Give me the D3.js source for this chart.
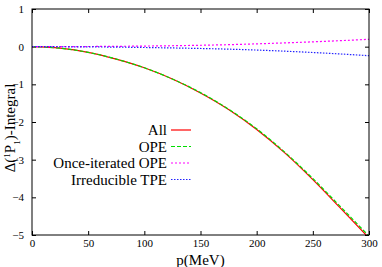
<!DOCTYPE html>
<html>
<head>
<meta charset="utf-8">
<script src="https://cdn.jsdelivr.net/npm/d3@7"></script>
<style>
body { margin: 0; background: #fff; }
svg text { font-family: "Liberation Serif", "DejaVu Serif", serif; }
</style>
</head>
<body>
<script>
const width = 382, height = 267;
const margin = {left: 32, right: 13, top: 9, bottom: 32};

// momentum values (MeV)
const pValues = [0, 25, 50, 75, 100, 125, 150, 175, 200, 225, 250, 275, 300];
// series
const allValues = [0, -0.04, -0.15, -0.33, -0.56, -0.86, -1.23, -1.67, -2.2, -2.82, -3.53, -4.3, -5.08];
const opeValues = [0, -0.04, -0.15, -0.33, -0.56, -0.86, -1.22, -1.66, -2.18, -2.8, -3.5, -4.26, -5.03];
const onceValues = [0, 0.001, 0.004, 0.009, 0.016, 0.025, 0.037, 0.053, 0.075, 0.1, 0.128, 0.16, 0.195];
const tpeValues = [0, -0.002, -0.006, -0.012, -0.022, -0.034, -0.048, -0.066, -0.09, -0.12, -0.155, -0.195, -0.24];

const seriesNames = ["All", "OPE", "Once-iterated OPE", "Irreducible TPE"];
const seriesColors = ["#ff0000", "#00dd00", "#ff00ff", "#2222ff"];
const seriesDash = [null, "4,2", "2,2", "1.5,1.5"];
const seriesData = [allValues, opeValues, onceValues, tpeValues];

const xTicks = [0, 50, 100, 150, 200, 250, 300];
const yTicks = [1, 0, -1, -2, -3, -4, -5];

const serif = "'Liberation Serif', 'DejaVu Serif', serif";

const svg = d3.select("body").append("svg")
	.attr("width", width)
	.attr("height", height);

const x = d3.scaleLinear().domain([0, 300]).range([margin.left, width - margin.right]);
const y = d3.scaleLinear().domain([-5, 1]).range([height - margin.bottom, margin.top]);

svg.append("defs").append("clipPath").attr("id", "plot")
	.append("rect")
	.attr("x", x(0)).attr("y", y(1))
	.attr("width", x(300) - x(0)).attr("height", y(-5) - y(1));

// ticks on all four sides, pointing inward
const tk = 4;
const fmt = d3.format("d");
svg.append("g")
	.attr("transform", "translate(0," + y(-5) + ")")
	.call(d3.axisBottom(x).tickValues(xTicks).tickSize(-tk).tickPadding(4).tickFormat(fmt))
	.call(g => g.select(".domain").remove());
svg.append("g")
	.attr("transform", "translate(0," + y(1) + ")")
	.call(d3.axisTop(x).tickValues(xTicks).tickSize(-tk).tickFormat(""))
	.call(g => g.select(".domain").remove());
svg.append("g")
	.attr("transform", "translate(" + x(0) + ",0)")
	.call(d3.axisLeft(y).tickValues(yTicks).tickSize(-tk).tickPadding(8).tickFormat(fmt))
	.call(g => g.select(".domain").remove());
svg.append("g")
	.attr("transform", "translate(" + x(300) + ",0)")
	.call(d3.axisRight(y).tickValues(yTicks).tickSize(-tk).tickFormat(""))
	.call(g => g.select(".domain").remove());

svg.selectAll("g").attr("font-family", null);
svg.selectAll(".tick text")
	.style("font-family", serif)
	.style("font-size", "11px")
	.attr("fill", "#000");
svg.selectAll(".tick line").attr("stroke", "#000");

const line = d3.line()
	.x((d, i) => x(pValues[i]))
	.y(d => y(d))
	.curve(d3.curveMonotoneX);

const plot = svg.append("g").attr("clip-path", "url(#plot)");
seriesData.forEach((vals, k) => {
	plot.append("path")
		.datum(vals)
		.attr("d", line)
		.attr("fill", "none")
		.attr("stroke", seriesColors[k])
		.attr("stroke-width", 1.2)
		.attr("stroke-dasharray", seriesDash[k]);
});

// frame
svg.append("rect")
	.attr("x", x(0)).attr("y", y(1))
	.attr("width", x(300) - x(0)).attr("height", y(-5) - y(1))
	.attr("fill", "none").attr("stroke", "#000").attr("stroke-width", 1);

// legend
const legend = svg.append("g");
seriesNames.forEach((name, k) => {
	const ly = 130 + k * 16.5;
	legend.append("text")
		.attr("x", 167).attr("y", ly + 5)
		.attr("text-anchor", "end")
		.style("font-family", serif)
		.style("font-size", "15px")
		.text(name);
	legend.append("line")
		.attr("x1", 171).attr("x2", 191)
		.attr("y1", ly).attr("y2", ly)
		.attr("stroke", seriesColors[k])
		.attr("stroke-width", 1.2)
		.attr("stroke-dasharray", seriesDash[k]);
});

// axis labels
svg.append("text")
	.attr("x", (x(0) + x(300)) / 2)
	.attr("y", 265)
	.attr("text-anchor", "middle")
	.style("font-family", serif)
	.style("font-size", "15px")
	.text("p(MeV)");

const yl = svg.append("text")
	.attr("transform", "translate(15," + 128 + ") rotate(-90)")
	.attr("text-anchor", "middle")
	.style("font-family", serif)
	.style("font-size", "15px");
yl.append("tspan").text("Δ(");
yl.append("tspan").attr("baseline-shift", "super").style("font-size", "9px").text("1");
yl.append("tspan").text("P");
yl.append("tspan").attr("baseline-shift", "sub").style("font-size", "9px").text("1");
yl.append("tspan").text(")-Integral");
</script>
</body>
</html>
